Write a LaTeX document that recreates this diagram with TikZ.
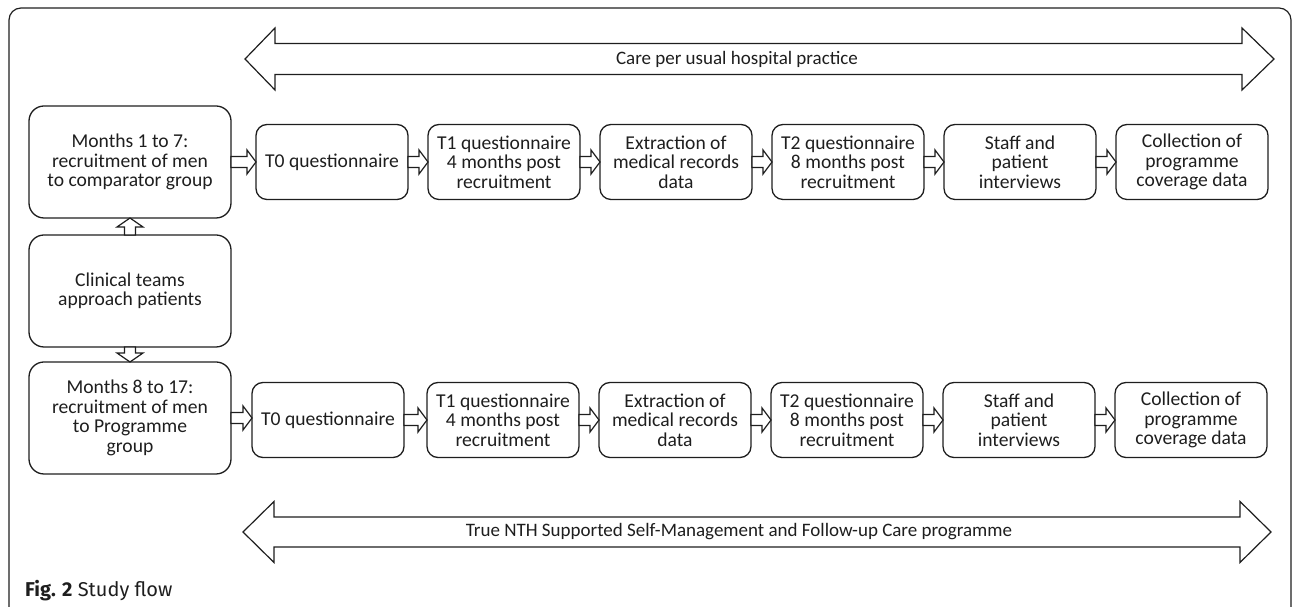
\documentclass[tikz,border=0pt]{standalone}
\usepackage{fontspec}
\setmainfont{Carlito}
\newfontfamily\captionfont{Fira Sans}
\usepackage{tikz}
\usetikzlibrary{positioning,calc}
\definecolor{flowink}{HTML}{1E1E1E}

% open block arrows between boxes
\newcommand{\hflow}[2]{%
  \draw[flowarrow] let \p1=(#1.east), \p2=(#2.west) in
    (\x1,\y1+5.5pt) -- (\x2-9pt,\y1+5.5pt) -- (\x2-9pt,\y1+12pt) -- (\x2,\y1)
    -- (\x2-9pt,\y1-12pt) -- (\x2-9pt,\y1-5.5pt) -- (\x1,\y1-5.5pt) -- cycle;}
\newcommand{\upflow}[2]{%
  \draw[flowarrow] let \p1=(#1.north), \p2=(#2.south) in
    (\x1-5.5pt,\y1) -- (\x1-5.5pt,\y2-9pt) -- (\x1-13pt,\y2-9pt) -- (\x1,\y2)
    -- (\x1+13pt,\y2-9pt) -- (\x1+5.5pt,\y2-9pt) -- (\x1+5.5pt,\y1) -- cycle;}
\newcommand{\downflow}[2]{%
  \draw[flowarrow] let \p1=(#1.south), \p2=(#2.north) in
    (\x1-5.5pt,\y1) -- (\x1-5.5pt,\y2+9pt) -- (\x1-13pt,\y2+9pt) -- (\x1,\y2)
    -- (\x1+13pt,\y2+9pt) -- (\x1+5.5pt,\y2+9pt) -- (\x1+5.5pt,\y1) -- cycle;}

\begin{document}
\begin{tikzpicture}[
  x=1pt, y=1pt,
  font=\fontsize{19}{19.5}\selectfont,
  stagebox/.style={draw=flowink, line width=1.3pt, rounded corners=11pt,
    minimum width=152pt, minimum height=75pt, inner sep=0pt, outer sep=0pt,
    align=center, text=flowink, font=\fontsize{19.6}{19.5}\selectfont},
  recruitbox/.style={stagebox, minimum width=202pt, minimum height=112pt,
    rounded corners=15pt},
  flowarrow/.style={draw=flowink, line width=1.2pt, fill=white, line join=miter},
  banner/.style={draw=flowink, line width=1.2pt, fill=white, line join=miter},
  bannertext/.style={text=flowink}
]
  \useasboundingbox (0,0) rectangle (1292,607);
  \draw[draw=flowink, line width=1.2pt, rounded corners=12pt]
    (9,-20) -- (9,599) -- (1291,599) -- (1291,-20);

  % recruitment column
  \node[recruitbox] (comparator) at (130,445) {Months 1 to 7:\\recruitment of men\\to comparator group};
  \node[recruitbox, below=17pt of comparator] (clinical) {Clinical teams\\approach patients};
  \node[recruitbox, below=15pt of clinical] (programme) {Months 8 to 17:\\recruitment of men\\to Programme\\group};

  % comparator row
  \node[stagebox, right=25pt of comparator] (tzeroA) {T0 questionnaire};
  \node[stagebox, right=20pt of tzeroA] (toneA) {T1 questionnaire\\4 months post\\recruitment};
  \node[stagebox, right=20pt of toneA] (extractA) {Extraction of\\medical records\\data};
  \node[stagebox, right=20pt of extractA] (ttwoA) {T2 questionnaire\\8 months post\\recruitment};
  \node[stagebox, right=20pt of ttwoA] (interviewA) {Staff and\\patient\\interviews};
  \node[stagebox, right=20pt of interviewA] (coverageA) {Collection of\\programme\\coverage data};

  % programme row
  \node[stagebox, right=21pt of programme, yshift=-2pt] (tzeroB) {T0 questionnaire};
  \node[stagebox, right=23pt of tzeroB] (toneB) {T1 questionnaire\\4 months post\\recruitment};
  \node[stagebox, right=20pt of toneB] (extractB) {Extraction of\\medical records\\data};
  \node[stagebox, right=20pt of extractB] (ttwoB) {T2 questionnaire\\8 months post\\recruitment};
  \node[stagebox, right=20pt of ttwoB] (interviewB) {Staff and\\patient\\interviews};
  \node[stagebox, right=20pt of interviewB] (coverageB) {Collection of\\programme\\coverage data};

  \upflow{clinical}{comparator}
  \downflow{clinical}{programme}
  \hflow{comparator}{tzeroA}
  \hflow{tzeroA}{toneA}
  \hflow{toneA}{extractA}
  \hflow{extractA}{ttwoA}
  \hflow{ttwoA}{interviewA}
  \hflow{interviewA}{coverageA}
  \hflow{programme}{tzeroB}
  \hflow{tzeroB}{toneB}
  \hflow{toneB}{extractB}
  \hflow{extractB}{ttwoB}
  \hflow{ttwoB}{interviewB}
  \hflow{interviewB}{coverageB}

  % care banners
  \draw[banner] (245,548) -- (275,579) -- (275,563.5) -- (1242,563.5) -- (1242,579)
    -- (1274,548) -- (1242,517) -- (1242,532.5) -- (275,532.5) -- (275,517) -- cycle;
  \node[bannertext] (usualcare) at (737,548) {Care per usual hospital practice};
  \draw[banner] (243,75) -- (274,105.5) -- (274,90) -- (1240,90) -- (1240,105.5)
    -- (1271,75) -- (1240,44.5) -- (1240,60) -- (274,60) -- (274,44.5) -- cycle;
  \node[bannertext] (truenth) at (739,75) {True NTH Supported Self-Management and Follow-up Care programme};

  \node[anchor=base west, inner sep=0pt, text=flowink,
    font=\captionfont\fontsize{20}{22}\selectfont] (caption) at (25,10)
    {\textbf{Fig. 2} Study flow};
\end{tikzpicture}
\end{document}
